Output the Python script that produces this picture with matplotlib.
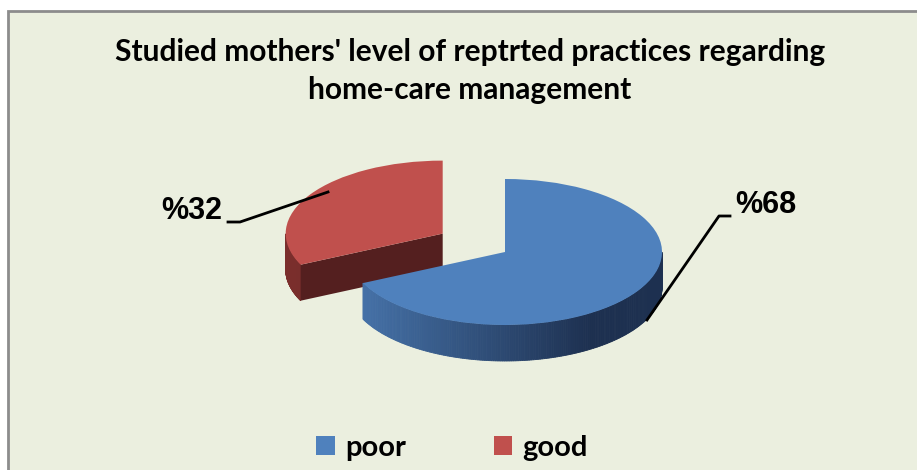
"""
3D-looking exploded pie: mothers' reported home-care practices
"""
import matplotlib
matplotlib.use("Agg")
import matplotlib.pyplot as plt
import numpy as np
from matplotlib.patches import Rectangle
from matplotlib.lines import Line2D
from matplotlib.colors import to_rgb

# data
categories = ['poor', 'good']
values = [68, 32]
labels = ['%68', '%32']
top_colors = ['#4F81BD', '#C0504D']
explode = [0, 0.47]

W, H = 917, 470
# pixel geometry of the pie ellipse
cx_px, cy_px = 505, 252
rx_px, ry_px = 157, 73
depth = 36 / ry_px

title_font = ['Lato', 'DejaVu Sans']
label_font = ['Liberation Sans', 'DejaVu Sans']


def fx(px):
    return px / W


def fy(py):
    return 1 - py / H


def lerp_color(c0, c1, t):
    a, b = np.array(to_rgb(c0)), np.array(to_rgb(c1))
    return tuple(a + (b - a) * np.clip(t, 0, 1))


fig = plt.figure(figsize=(W / 100, H / 100), dpi=100, facecolor='white')

# chart area frame
fig.patches.append(Rectangle((fx(8), -0.05), 1.0, fy(11) + 0.05,
                             transform=fig.transFigure, facecolor='#EBEFDF',
                             edgecolor='#8C8C8C', linewidth=2, zorder=-1))

ax = fig.add_axes([0, 0, 1, 1])
ax.patch.set_alpha(0)

wedges, _ = ax.pie(values, colors=top_colors, startangle=90,
                   counterclock=False, explode=explode,
                   wedgeprops=dict(linewidth=0, zorder=5))
ax.set_aspect('auto')
ax.set_xlim(-cx_px / rx_px, (W - cx_px) / rx_px)
ax.set_ylim((cy_px - H) / ry_px, cy_px / ry_px)
ax.axis('off')

# side walls built from the wedges the pie produced
side_styles = {
    'poor': dict(light='#4673AA', dark='#1D3050', z=3),
    'good': dict(light='#7A2E2C', dark='#541F1F', z=2),
}
for w, cat in zip(wedges, categories):
    st = side_styles[cat]
    x0, y0 = w.center
    t1, t2 = np.deg2rad(w.theta1), np.deg2rad(w.theta2)
    th = np.linspace(t1, t2, 300)
    # outer curved wall, only the part facing the viewer
    for a, b in zip(th[:-1], th[1:]):
        if np.sin((a + b) / 2) >= 0:
            continue
        xs = [x0 + np.cos(a), x0 + np.cos(b), x0 + np.cos(b), x0 + np.cos(a)]
        ys = [y0 + np.sin(a), y0 + np.sin(b), y0 + np.sin(b) - depth,
              y0 + np.sin(a) - depth]
        t = (np.cos((a + b) / 2) + 0.95) / 1.5
        col = lerp_color(st['light'], st['dark'], t)
        ax.fill(xs, ys, color=col, linewidth=0.6, edgecolor=col, zorder=st['z'])
    # radial cut faces that face the viewer
    for edge, normal in ((t1, t1 - np.pi / 2), (t2, t2 + np.pi / 2)):
        if np.sin(normal) < -0.05:
            xs = [x0, x0 + np.cos(edge), x0 + np.cos(edge), x0]
            ys = [y0, y0 + np.sin(edge), y0 + np.sin(edge) - depth, y0 - depth]
            ax.fill(xs, ys, color=st['dark'], linewidth=0, zorder=st['z'])

# title
fig.text(fx(470), fy(52), "Studied mothers' level of reptrted practices regarding",
         ha='center', va='center', fontsize=21.5, fontweight='bold',
         family=title_font)
fig.text(fx(470), fy(90), 'home-care management', ha='center', va='center',
         fontsize=21.5, fontweight='bold', family=title_font)

# data labels with leader lines
fig.text(fx(222), fy(211), labels[1], ha='right', va='center', fontsize=22,
         fontweight='bold', family=label_font)
fig.lines.append(Line2D([fx(228), fx(240), fx(328)], [fy(222), fy(222), fy(192)],
                        transform=fig.transFigure, color='black', lw=2))
fig.text(fx(735), fy(205), labels[0], ha='left', va='center', fontsize=22,
         fontweight='bold', family=label_font)
fig.lines.append(Line2D([fx(647), fx(719), fx(730)], [fy(320), fy(216), fy(216)],
                        transform=fig.transFigure, color='black', lw=2))

# legend
fig.legend(wedges, categories, loc='center', bbox_to_anchor=(fx(452), fy(448)),
           ncol=2, frameon=False, handlelength=0.65, handleheight=0.65,
           handletextpad=0.35, columnspacing=3.0,
           prop=dict(family=title_font, weight='bold', size=21))

fig.savefig('out.png', dpi=100, facecolor='white')
